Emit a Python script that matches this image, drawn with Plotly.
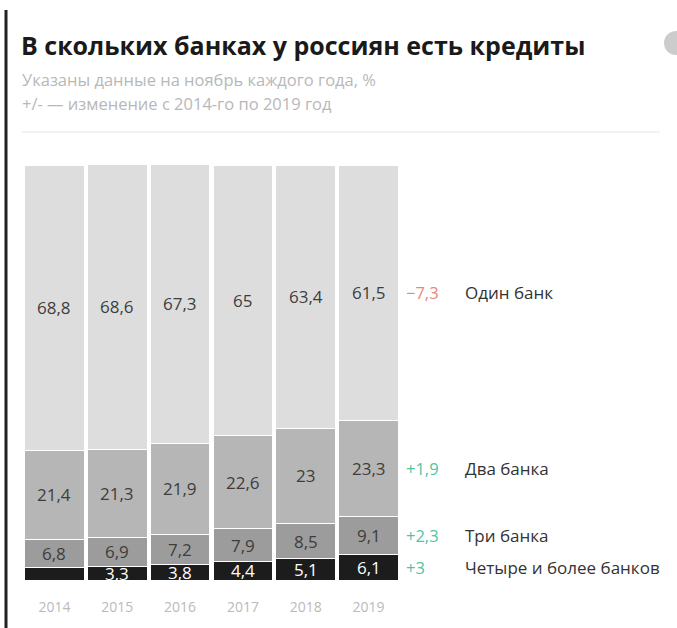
import plotly.graph_objects as go

years = ["2014", "2015", "2016", "2017", "2018", "2019"]
four_plus = [3.0, 3.3, 3.8, 4.4, 5.1, 6.1]
three = [6.8, 6.9, 7.2, 7.9, 8.5, 9.1]
two = [21.4, 21.3, 21.9, 22.6, 23.0, 23.3]
one = [68.8, 68.6, 67.3, 65.0, 63.4, 61.5]
series_names = ["Четыре и более банков", "Три банка", "Два банка", "Один банк"]
changes = ["+3", "+2,3", "+1,9", "−7,3"]
hidden_labels = {("Четыре и более банков", "2014")}

series = [four_plus, three, two, one]
colors = ["#1c1c1c", "#9c9c9c", "#b6b6b6", "#dddddd"]
text_colors = ["#ffffff", "#3d3d3d", "#3d3d3d", "#3d3d3d"]
change_colors = ["#52c4a2", "#52c4a2", "#52c4a2", "#e8887c"]
FONT = "Open Sans"

def fmt(v):
    s = ("%.1f" % v).rstrip("0").rstrip(".")
    return s.replace(".", ",")

W, H = 677, 628
L, R, T, B = 23, 277, 165, 48
pw, ph = W - L - R, H - T - B

def px_x(x):
    return (x - L) / pw

def px_y(y):
    return (H - B - y) / ph

xi = list(range(len(years)))
fig = go.Figure()
annotations = []
base = [0.0] * len(years)
for name, vals, c, tc in zip(series_names, series, colors, text_colors):
    fig.add_trace(go.Bar(
        x=xi, y=vals, name=name,
        marker=dict(color=c, line=dict(color="white", width=1)),
        hoverinfo="skip",
    ))
    for i, (yr, v) in enumerate(zip(years, vals)):
        if (name, yr) not in hidden_labels:
            annotations.append(dict(x=i, y=base[i] + v / 2, xref="x", yref="y", text=fmt(v),
                                    showarrow=False, xanchor="center", yanchor="middle",
                                    font=dict(size=17, color=tc, family=FONT)))
        base[i] += v

cum = 0
for name, vals, ch, cc in zip(series_names, series, changes, change_colors):
    center = cum + vals[-1] / 2
    cum += vals[-1]
    annotations.append(dict(x=px_x(404), y=center, xref="paper", yref="y", text=ch,
                            showarrow=False, xanchor="left", yanchor="middle",
                            font=dict(size=16.5, color=cc, family=FONT)))
    annotations.append(dict(x=px_x(463), y=center, xref="paper", yref="y", text=name,
                            showarrow=False, xanchor="left", yanchor="middle",
                            font=dict(size=17, color="#333333", family=FONT)))

annotations.append(dict(x=px_x(19), y=px_y(45), xref="paper", yref="paper",
                        text="<b>В скольких банках у россиян есть кредиты</b>",
                        showarrow=False, xanchor="left", yanchor="middle",
                        font=dict(size=25, color="#1a1a1a", family=FONT)))
annotations.append(dict(x=px_x(20), y=px_y(80), xref="paper", yref="paper",
                        text="Указаны данные на ноябрь каждого года, %",
                        showarrow=False, xanchor="left", yanchor="middle",
                        font=dict(size=16.5, color="#b8b8b8", family=FONT)))
annotations.append(dict(x=px_x(20), y=px_y(103), xref="paper", yref="paper",
                        text="+/- — изменение с 2014-го по 2019 год",
                        showarrow=False, xanchor="left", yanchor="middle",
                        font=dict(size=16.5, color="#b8b8b8", family=FONT)))

shapes = [
    dict(type="line", xref="paper", yref="paper", x0=px_x(22), x1=px_x(660),
         y0=px_y(132), y1=px_y(132), line=dict(color="#e6e6e6", width=1)),
    dict(type="line", xref="paper", yref="paper", x0=px_x(6), x1=px_x(6),
         y0=px_y(10), y1=px_y(628), line=dict(color="#222222", width=3)),
    dict(type="circle", xref="paper", yref="paper", xsizemode="pixel", ysizemode="pixel",
         xanchor=px_x(676), yanchor=px_y(43), x0=-12, x1=12, y0=-12, y1=12,
         fillcolor="#cccccc", line=dict(width=0)),
]

fig.update_layout(
    width=W, height=H, barmode="stack", bargap=0.05,
    margin=dict(l=L, r=R, t=T, b=B),
    paper_bgcolor="white", plot_bgcolor="white", showlegend=False,
    annotations=annotations, shapes=shapes,
    xaxis=dict(type="linear", range=[-0.5, len(years) - 0.5], tickmode="array",
               tickvals=xi, ticktext=years,
               showgrid=False, showline=False, zeroline=False, ticks="",
               tickfont=dict(size=14, color="#bababa", family=FONT),
               ticklabelstandoff=17),
    yaxis=dict(range=[0, 100], visible=False),
    font=dict(family=FONT),
)

fig.write_html("out.html", post_script="document.body.style.margin='0';",
               config={"displayModeBar": False})
